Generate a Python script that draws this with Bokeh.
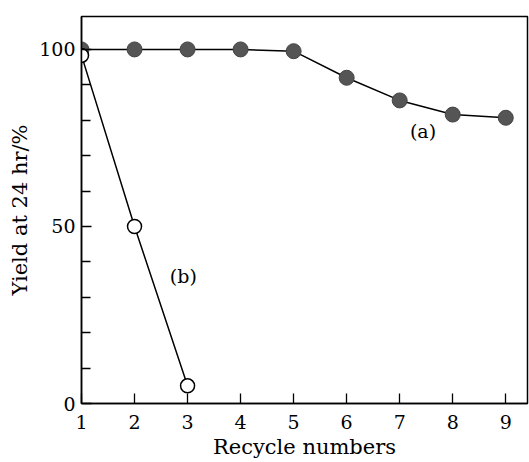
from bokeh.plotting import figure
from bokeh.models import FixedTicker, Range1d, Label
from bokeh.embed import file_html
from bokeh.resources import INLINE

# Data
cycles_a = [1, 2, 3, 4, 5, 6, 7, 8, 9]
yield_a = [100, 100, 100, 100, 99.5, 92, 85.6, 81.6, 80.7]
cycles_b = [1, 2, 3]
yield_b = [98.3, 50, 5]
x_ticks = [1, 2, 3, 4, 5, 6, 7, 8, 9]
y_ticks = [0, 50, 100]
y_minor = [10, 20, 30, 40, 60, 70, 80, 90]

SERIF = "DejaVu Serif"

p = figure(output_backend="svg", toolbar_location=None,
           width=529, height=462,
           min_border_left=81, min_border_right=2, min_border_top=16, min_border_bottom=59,
           x_range=Range1d(1, 9.41), y_range=Range1d(0, 109.3),
           background_fill_color="white", border_fill_color="white")

p.outline_line_color = "black"
p.outline_line_width = 1.5
p.xgrid.visible = False
p.ygrid.visible = False

for ax in (p.xaxis, p.yaxis):
    ax.axis_line_color = "black"
    ax.axis_line_width = 1.5
    ax.major_tick_in = 10
    ax.major_tick_out = 0
    ax.major_tick_line_width = 1.3
    ax.major_label_text_font = SERIF
    ax.major_label_text_font_size = "19px"
    ax.major_label_text_color = "black"
    ax.axis_label_text_font = SERIF
    ax.axis_label_text_font_style = "normal"
    ax.axis_label_text_font_size = "21px"
    ax.axis_label_text_color = "black"

p.xaxis.ticker = FixedTicker(ticks=x_ticks)
p.xaxis.minor_tick_line_color = None
p.xaxis.major_label_standoff = 11
p.xaxis.axis_label = "Recycle numbers"
p.xaxis.axis_label_standoff = 3

p.yaxis.ticker = FixedTicker(ticks=y_ticks, minor_ticks=y_minor)
p.yaxis.minor_tick_in = 9
p.yaxis.minor_tick_out = 0
p.yaxis.minor_tick_line_width = 1.3
p.yaxis.minor_tick_line_color = "black"
p.yaxis.major_label_standoff = 6
p.yaxis.axis_label = "Yield at 24 hr/%"
p.yaxis.axis_label_standoff = 4

# series (a)
p.line(cycles_a, yield_a, line_color="black", line_width=1.5)
p.scatter(cycles_a, yield_a, size=15, fill_color="#555555", line_color="#444444", line_width=1)

# series (b)
p.line(cycles_b, yield_b, line_color="black", line_width=1.5)
p.scatter(cycles_b, yield_b, size=14, fill_color="white", line_color="black", line_width=1.5)

p.add_layout(Label(x=7.44, y=77, text="(a)", text_font=SERIF, text_font_size="19px",
                   text_align="center", text_baseline="middle", text_color="black"))
p.add_layout(Label(x=2.92, y=36, text="(b)", text_font=SERIF, text_font_size="19px",
                   text_align="center", text_baseline="middle", text_color="black"))

open("out.html", "w").write(file_html(p, INLINE))
